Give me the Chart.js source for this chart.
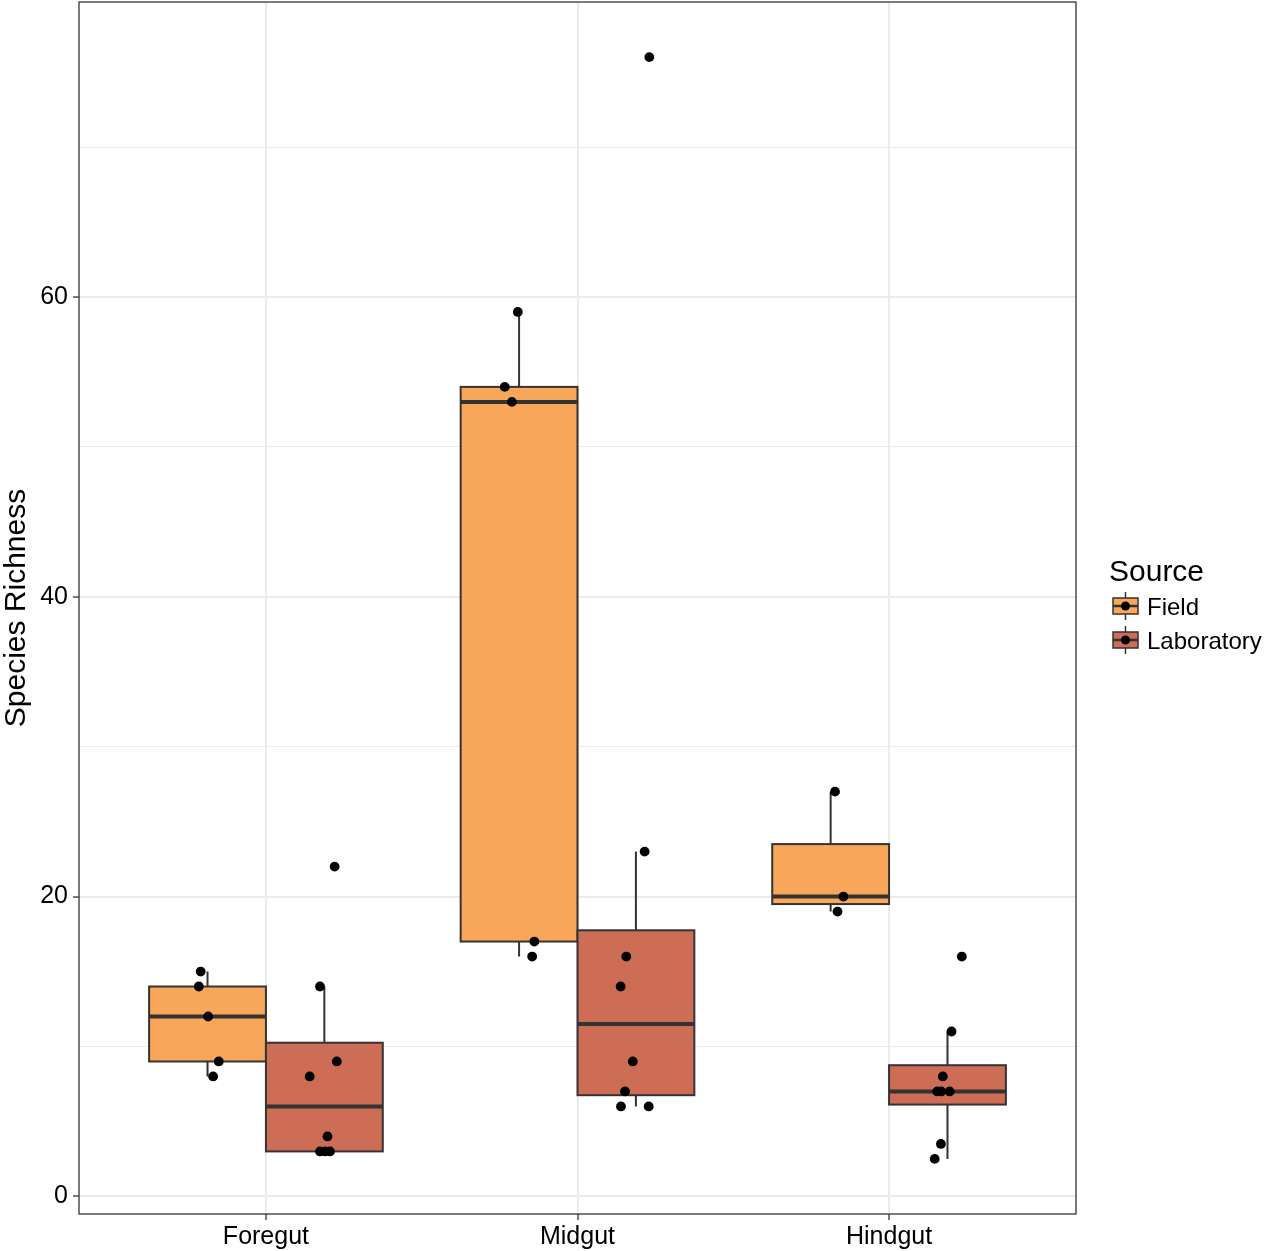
<!DOCTYPE html>
<html>
<head>
<meta charset="utf-8">
<script src="https://cdn.jsdelivr.net/npm/chart.js@4.4.1/dist/chart.umd.min.js"></script>
<style>
  html, body { margin: 0; padding: 0; background: #fff; }
  #wrap { width: 1267px; height: 1251px; position: relative; }
</style>
</head>
<body>
<div id="wrap"><canvas id="c" width="1267" height="1251"></canvas></div>
<script>
// ---------------- data ----------------
const categories = ['Foregut', 'Midgut', 'Hindgut'];
const sources = ['Field', 'Laboratory'];
const sourceColors = ['#F8A65A', '#CD6D55'];

// species richness values per sample
const fieldValues = [
  [15, 14, 12, 9, 8],
  [59, 54, 53, 17, 16],
  [27, 20, 19]
];
const labValues = [
  [22, 14, 9, 8, 4, 3, 3, 3],
  [76, 23, 16, 14, 9, 7, 6, 6],
  [16, 11, 8, 7, 7, 7, 3.5, 2.5]
];
// horizontal jitter of each point (category units)
const fieldJitter = [
  [-0.022, -0.028, 0.002, 0.036, 0.018],
  [-0.004, -0.046, -0.023, 0.049, 0.042],
  [0.014, 0.041, 0.022]
];
const labJitter = [
  [0.033, -0.014, 0.040, -0.047, 0.010, -0.014, 0.002, 0.018],
  [0.043, 0.028, -0.031, -0.049, -0.010, -0.035, -0.048, 0.041],
  [0.046, 0.013, -0.015, -0.033, -0.020, 0.007, -0.021, -0.041]
];

const yTicks = [0, 10, 20, 30, 40, 50, 60, 70];
const yTickLabels = ['0', '', '20', '', '40', '', '60', ''];
const xTickPositions = [1, 2, 3];

// ---------------- helpers ----------------
const FONT = "'Liberation Sans', Arial, Helvetica, sans-serif";
Chart.defaults.font.family = FONT;

const allValues = [fieldValues, labValues];
const allJitter = [fieldJitter, labJitter];
const DODGE = 0.75;             // total dodge width per category
const BOXW = DODGE / 2;         // width of each box
const offsets = [-DODGE / 4, DODGE / 4];

function quantile(sorted, p) {
  const h = (sorted.length - 1) * p;
  const lo = Math.floor(h), hi = Math.ceil(h);
  return sorted[lo] + (h - lo) * (sorted[hi] - sorted[lo]);
}
function boxStats(vals) {
  const s = vals.slice().sort((a, b) => a - b);
  const q1 = quantile(s, 0.25), med = quantile(s, 0.5), q3 = quantile(s, 0.75);
  const iqr = q3 - q1;
  const lowW = Math.min(...s.filter(v => v >= q1 - 1.5 * iqr));
  const highW = Math.max(...s.filter(v => v <= q3 + 1.5 * iqr));
  return { q1, med, q3, lowW, highW };
}

const flat = allValues.flat(2);
const dMin = Math.min(...flat), dMax = Math.max(...flat);
const yMin = dMin - 0.05 * (dMax - dMin);
const yMax = dMax + 0.05 * (dMax - dMin);

const datasets = sources.map((src, s) => ({
  label: src,
  data: allValues[s].flatMap((vals, i) =>
    vals.map((v, k) => ({ x: xTickPositions[i] + offsets[s] + allJitter[s][i][k], y: v }))),
  pointRadius: 4.9,
  pointHoverRadius: 4.9,
  backgroundColor: '#000',
  borderWidth: 0
}));

// ---------------- plugins ----------------
const boxPlugin = {
  id: 'boxes',
  beforeDatasetsDraw(chart) {
    const { ctx, scales: { x, y } } = chart;
    ctx.save();
    sources.forEach((src, s) => {
      allValues[s].forEach((vals, i) => {
        const st = boxStats(vals);
        const cx = x.getPixelForValue(xTickPositions[i] + offsets[s]);
        const xl = x.getPixelForValue(xTickPositions[i] + offsets[s] - BOXW / 2);
        const xr = x.getPixelForValue(xTickPositions[i] + offsets[s] + BOXW / 2);
        const yq1 = y.getPixelForValue(st.q1), yq3 = y.getPixelForValue(st.q3);
        const ym = y.getPixelForValue(st.med);
        ctx.strokeStyle = '#333333';
        ctx.lineWidth = 2;
        ctx.beginPath();
        ctx.moveTo(cx, yq3); ctx.lineTo(cx, y.getPixelForValue(st.highW));
        ctx.moveTo(cx, yq1); ctx.lineTo(cx, y.getPixelForValue(st.lowW));
        ctx.stroke();
        ctx.fillStyle = sourceColors[s];
        ctx.fillRect(xl, yq3, xr - xl, yq1 - yq3);
        ctx.strokeRect(xl, yq3, xr - xl, yq1 - yq3);
        ctx.lineWidth = 4;
        ctx.beginPath();
        ctx.moveTo(xl, ym); ctx.lineTo(xr, ym);
        ctx.stroke();
      });
    });
    ctx.restore();
  },
  afterDraw(chart) {
    const { ctx, chartArea: a } = chart;
    ctx.save();
    // panel border
    ctx.strokeStyle = '#333333';
    ctx.lineWidth = 1.3;
    ctx.strokeRect(a.left, a.top, a.right - a.left, a.bottom - a.top);
    // legend
    ctx.fillStyle = '#000';
    ctx.textBaseline = 'alphabetic';
    ctx.textAlign = 'left';
    ctx.font = '30px ' + FONT;
    ctx.fillText('Source', 1109, 581);
    const keyCx = 1125.5;
    const keyCy = [606, 640];
    sources.forEach((src, s) => {
      const cy = keyCy[s];
      ctx.strokeStyle = '#333333';
      ctx.lineWidth = 1.5;
      ctx.beginPath();
      ctx.moveTo(keyCx, cy - 14); ctx.lineTo(keyCx, cy + 14);
      ctx.stroke();
      ctx.fillStyle = sourceColors[s];
      ctx.fillRect(keyCx - 12.5, cy - 8, 25, 16);
      ctx.strokeRect(keyCx - 12.5, cy - 8, 25, 16);
      ctx.lineWidth = 2.5;
      ctx.beginPath();
      ctx.moveTo(keyCx - 12.5, cy); ctx.lineTo(keyCx + 12.5, cy);
      ctx.stroke();
      ctx.fillStyle = '#000';
      ctx.beginPath();
      ctx.arc(keyCx, cy, 4.5, 0, Math.PI * 2);
      ctx.fill();
      ctx.font = '24px ' + FONT;
      ctx.fillText(src, 1147, cy + 9);
    });
    ctx.restore();
  }
};

// ---------------- chart ----------------
new Chart(document.getElementById('c'), {
  type: 'scatter',
  data: { datasets },
  options: {
    responsive: false,
    animation: false,
    devicePixelRatio: 1,
    events: [],
    layout: { autoPadding: false, padding: { left: 0, top: 2, right: 191, bottom: 0 } },
    plugins: { legend: { display: false }, tooltip: { enabled: false } },
    scales: {
      x: {
        type: 'linear',
        min: 0.4,
        max: 3.6,
        afterBuildTicks: (sc) => { sc.ticks = xTickPositions.map(v => ({ value: v })); },
        afterFit: (sc) => { sc.height = 37; sc.paddingLeft = 0; sc.paddingRight = 0; },
        ticks: {
          callback: (v, i) => categories[i],
          font: { size: 25, family: FONT },
          color: '#000',
          padding: 2,
          maxRotation: 0,
          autoSkip: false
        },
        grid: { color: '#EBEBEB', lineWidth: 2, tickLength: 6, tickColor: '#333333', tickWidth: 1.3 },
        border: { display: false }
      },
      y: {
        type: 'linear',
        min: yMin,
        max: yMax,
        afterBuildTicks: (sc) => { sc.ticks = yTicks.map(v => ({ value: v })); },
        afterFit: (sc) => { sc.width = 79; sc.paddingTop = 0; sc.paddingBottom = 0; },
        ticks: {
          callback: (v, i) => yTickLabels[i],
          font: { size: 25, family: FONT },
          color: '#000',
          padding: 5,
          autoSkip: false
        },
        grid: {
          color: '#EBEBEB',
          lineWidth: (c) => (yTickLabels[c.index] ? 2 : 1),
          tickLength: 6,
          tickColor: (c) => (yTickLabels[c.index] ? '#333333' : 'rgba(0,0,0,0)'),
          tickWidth: 1.3
        },
        border: { display: false },
        title: {
          display: true,
          text: 'Species Richness',
          font: { size: 30, family: FONT, lineHeight: 1.1 },
          color: '#000',
          padding: 0
        }
      }
    }
  },
  plugins: [boxPlugin]
});
</script>
</body>
</html>
